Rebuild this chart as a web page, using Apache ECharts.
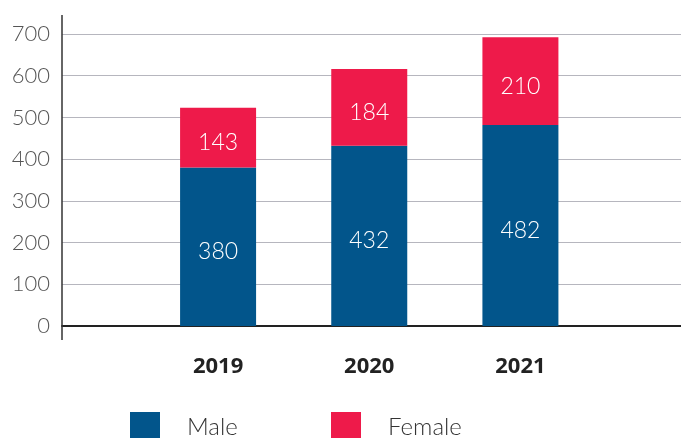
<!DOCTYPE html>
<html>
<head>
<meta charset="utf-8">
<script src="https://cdn.jsdelivr.net/npm/echarts@6/dist/echarts.min.js"></script>
<style>
  html, body { margin: 0; padding: 0; background: #fff; }
  #chart { width: 681px; height: 438px; }
</style>
</head>
<body>
<div id="chart"></div>
<script>
// Headcount by gender per year
const years = ['2019', '2020', '2021'];
const male = [380, 432, 482];
const female = [143, 184, 210];

const BLUE = '#02558b';
const RED = '#ee1a4a';
const FONT = 'Lato, "Open Sans", sans-serif';

const chart = echarts.init(document.getElementById('chart'), null, { renderer: 'canvas' });

const legendText = { fontSize: 24, color: '#333', fontWeight: 300, padding: [6, 0, 0, 22] };

chart.setOption({
  animation: false,
  backgroundColor: '#fff',
  textStyle: { fontFamily: FONT },
  grid: [
    // full-width frame carrying the value gridlines and the baseline
    { left: 62, right: 0, top: 34, bottom: 112 },
    // inner plotting band for the bars
    { left: 142.5, right: 85, top: 34, bottom: 112 }
  ],
  xAxis: [
    {
      gridIndex: 0, type: 'value', min: 0, max: 1,
      axisLine: { show: true, lineStyle: { color: '#222', width: 2 } },
      axisTick: { show: false }, axisLabel: { show: false }, splitLine: { show: false }
    },
    {
      gridIndex: 1, type: 'category', data: years,
      axisLine: { show: false }, axisTick: { show: false },
      axisLabel: {
        margin: 30, color: '#222', fontSize: 22, fontWeight: 'bold',
        fontFamily: '"Open Sans", Lato, sans-serif'
      }
    }
  ],
  yAxis: [
    {
      gridIndex: 0, type: 'value', min: 0, max: 700, interval: 100,
      axisLine: { show: false }, axisTick: { show: false },
      axisLabel: {
        margin: 12, color: '#555', fontSize: 22, fontWeight: 300,
        padding: [9, 0, 0, 0]
      },
      splitLine: { show: true, lineStyle: { color: '#b6b6be', width: 1.2 } }
    },
    {
      gridIndex: 1, type: 'value', min: 0, max: 700, interval: 100, show: false,
      splitLine: { show: false }
    }
  ],
  legend: [
    {
      data: ['Male'], left: 130, top: 412, padding: 0, itemWidth: 30, itemHeight: 30,
      icon: 'rect', textStyle: legendText
    },
    {
      data: ['Female'], left: 331, top: 412, padding: 0, itemWidth: 30, itemHeight: 30,
      icon: 'rect', textStyle: legendText
    }
  ],
  graphic: [
    {
      type: 'line', z: 10,
      shape: { x1: 62, y1: 15, x2: 62, y2: 340 },
      style: { stroke: '#333', lineWidth: 1.5 }
    }
  ],
  series: [
    {
      name: 'Male', type: 'bar', stack: 'total', xAxisIndex: 1, yAxisIndex: 1,
      data: male, barWidth: 76, itemStyle: { color: BLUE },
      label: { show: true, position: 'inside', color: '#fff', fontSize: 23, fontWeight: 300, offset: [0, 5] }
    },
    {
      name: 'Female', type: 'bar', stack: 'total', xAxisIndex: 1, yAxisIndex: 1,
      data: female, barWidth: 76, itemStyle: { color: RED },
      label: { show: true, position: 'inside', color: '#fff', fontSize: 23, fontWeight: 300, offset: [0, 5] }
    }
  ]
});
</script>
</body>
</html>
